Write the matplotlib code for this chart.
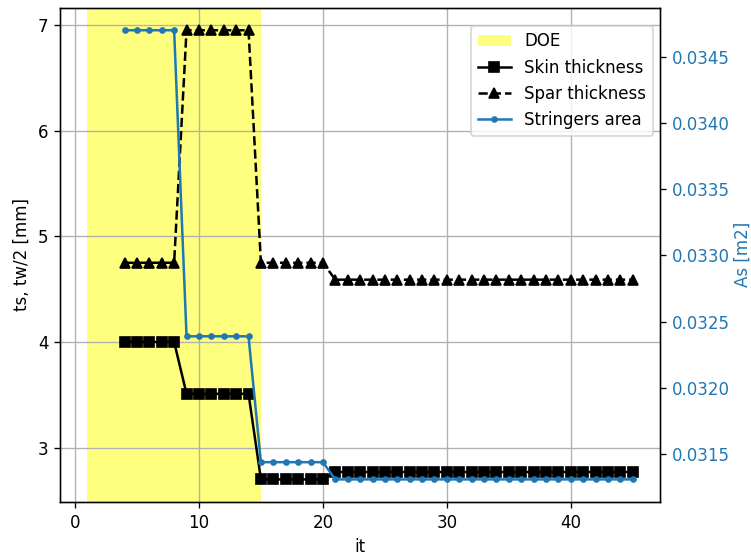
import matplotlib
matplotlib.use("Agg")
import matplotlib.pyplot as plt

# iterations and design variables
it = list(range(4, 46))
skin = [4.0]*5 + [3.51]*6 + [2.70]*6 + [2.77]*25
spar = [4.75]*5 + [6.95]*6 + [4.75]*6 + [4.59]*25
area = [0.03470]*5 + [0.03239]*6 + [0.03144]*6 + [0.03131]*25
doe_start = 1
doe_end = 15

fig, ax1 = plt.subplots(figsize=(751/120, 557/120), dpi=120)
fig.subplots_adjust(left=0.08, right=0.879, bottom=0.099, top=0.986)

h0 = ax1.axvspan(doe_start, doe_end, color="yellow", alpha=0.5, lw=0, label="DOE")
h1, = ax1.plot(it, skin, "s-", color="black", label="Skin thickness")
h2, = ax1.plot(it, spar, "^--", color="black", label="Spar thickness")
ax1.set_xlabel("it")
ax1.set_ylabel("ts, tw/2 [mm]")
ax1.grid(True)

ax2 = ax1.twinx()
h3, = ax2.plot(it, area, ".-", color="tab:blue", label="Stringers area")
ax2.set_ylabel("As [m2]", color="tab:blue", labelpad=2.5)
ax2.tick_params(axis="y", labelcolor="tab:blue")

ax2.legend(handles=[h0, h1, h2, h3], loc="upper right",
           bbox_to_anchor=(0.988, 0.964), borderaxespad=0)

plt.savefig("out.png")
